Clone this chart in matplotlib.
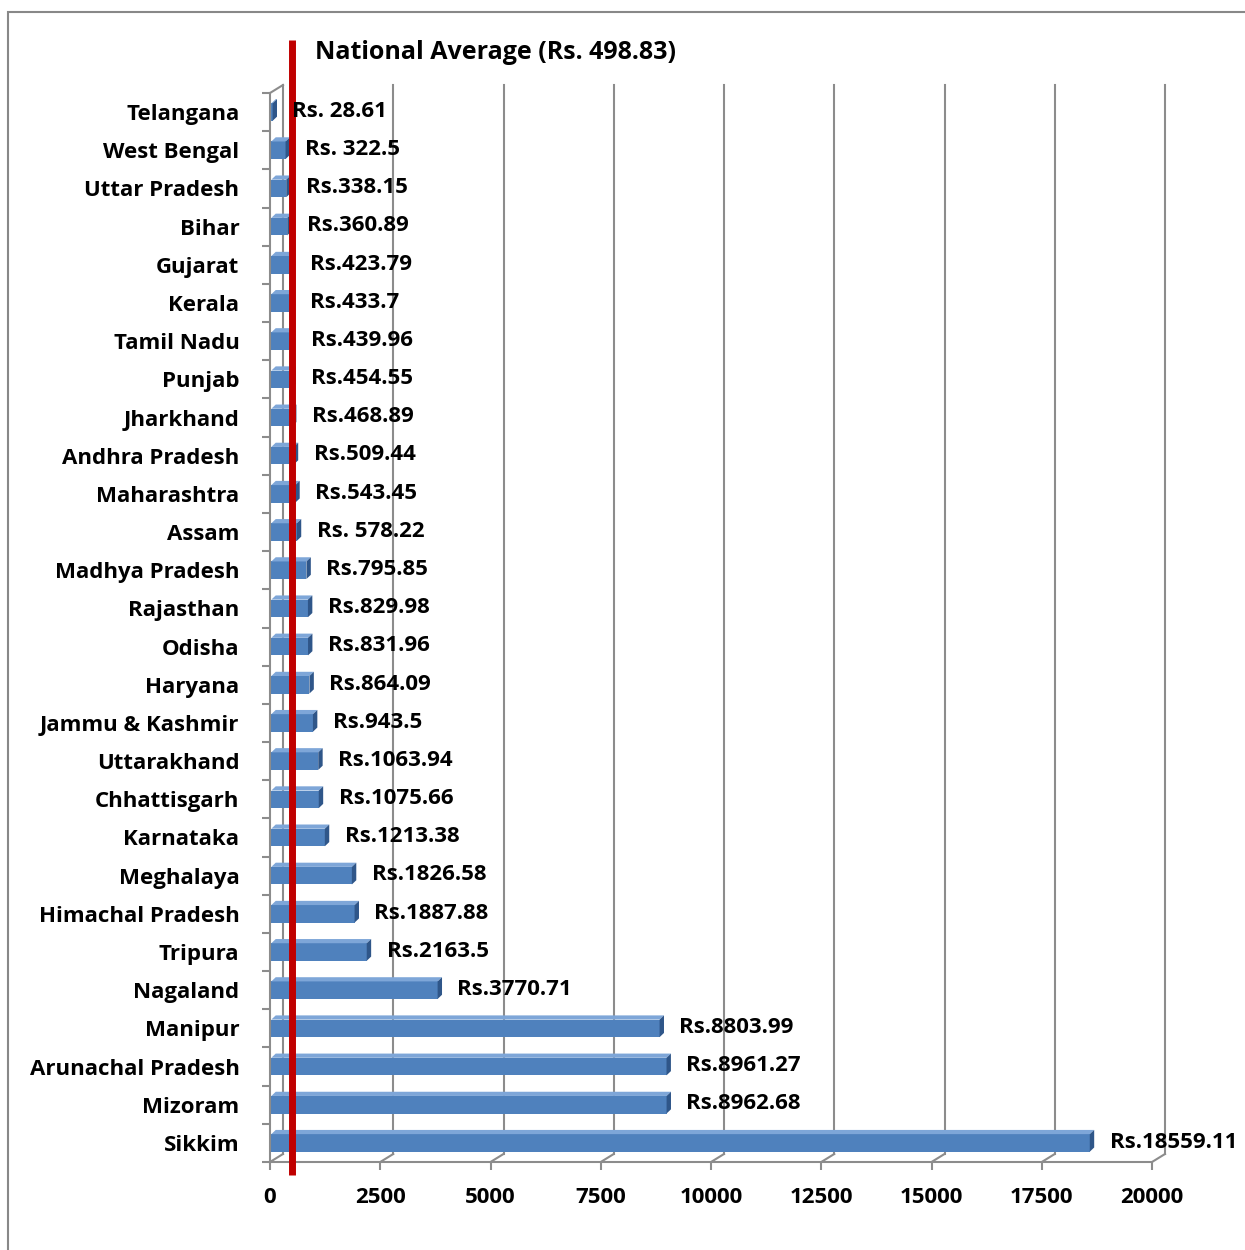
import matplotlib.pyplot as plt
from matplotlib.patches import Polygon, Rectangle
from matplotlib.transforms import offset_copy, blended_transform_factory

states = ['Telangana', 'West Bengal', 'Uttar Pradesh', 'Bihar', 'Gujarat', 'Kerala',
          'Tamil Nadu', 'Punjab', 'Jharkhand', 'Andhra Pradesh', 'Maharashtra', 'Assam',
          'Madhya Pradesh', 'Rajasthan', 'Odisha', 'Haryana', 'Jammu & Kashmir',
          'Uttarakhand', 'Chhattisgarh', 'Karnataka', 'Meghalaya', 'Himachal Pradesh',
          'Tripura', 'Nagaland', 'Manipur', 'Arunachal Pradesh', 'Mizoram', 'Sikkim']
values = [28.61, 322.5, 338.15, 360.89, 423.79, 433.7, 439.96, 454.55, 468.89, 509.44,
          543.45, 578.22, 795.85, 829.98, 831.96, 864.09, 943.5, 1063.94, 1075.66,
          1213.38, 1826.58, 1887.88, 2163.5, 3770.71, 8803.99, 8961.27, 8962.68, 18559.11]
labels = ['Rs. 28.61', 'Rs. 322.5', 'Rs.338.15', 'Rs.360.89', 'Rs.423.79', 'Rs.433.7',
          'Rs.439.96', 'Rs.454.55', 'Rs.468.89', 'Rs.509.44', 'Rs.543.45', 'Rs. 578.22',
          'Rs.795.85', 'Rs.829.98', 'Rs.831.96', 'Rs.864.09', 'Rs.943.5', 'Rs.1063.94',
          'Rs.1075.66', 'Rs.1213.38', 'Rs.1826.58', 'Rs.1887.88', 'Rs.2163.5',
          'Rs.3770.71', 'Rs.8803.99', 'Rs.8961.27', 'Rs.8962.68', 'Rs.18559.11']
national_avg = 498.83
xticks = [0, 2500, 5000, 7500, 10000, 12500, 15000, 17500, 20000]

plt.rcParams['font.family'] = ['Open Sans', 'DejaVu Sans']
plt.rcParams['font.weight'] = 'bold'
fs = 16

grey = '#8c8c8c'
front = '#4f81bd'
top_c = '#7ea6d8'
side_c = '#2f5689'

fig = plt.figure(figsize=(12.45, 12.5), dpi=100)
fig.patches.append(Rectangle((8 / 1245, -0.1), 1.2, 1 - 12 / 1250 + 0.1,
                             transform=fig.transFigure, fill=False,
                             edgecolor='#888888', lw=1.5))
ax = fig.add_axes([270 / 1245, 88 / 1250, 882 / 1245, 1069 / 1250])
n = len(states)
ax.set_xlim(0, 20000)
ax.set_ylim(-0.5, n - 0.5)

back = offset_copy(ax.transData, fig=fig, x=13, y=8, units='dots')

# back wall gridlines and floor slants
for t in xticks:
    ax.plot([t, t], [-0.5, n - 0.5], color=grey, lw=1.5, transform=back, zorder=1, clip_on=False)
    x0, y0 = ax.transData.transform((t, -0.5))
    x1, y1 = back.transform((t, -0.5))
    ax.plot([x0, x1], [y0, y1], color=grey, lw=1.5, transform=None, zorder=1, clip_on=False)
x0, y0 = ax.transData.transform((0, n - 0.5))
x1, y1 = back.transform((0, n - 0.5))
ax.plot([x0, x1], [y0, y1], color=grey, lw=1.5, transform=None, zorder=1, clip_on=False)

# 3D-looking bars
h = 0.46
dx = 100
dy = 0.11
for i, (v, lab) in enumerate(zip(values, labels)):
    y = n - 1 - i
    ax.barh(y, v, height=h, left=dx * 0.3, color=front, edgecolor='none', zorder=2)
    ax.add_patch(Polygon([(dx * 0.3, y + h / 2), (v + dx * 0.3, y + h / 2),
                          (v + dx * 1.3, y + h / 2 + dy), (dx * 1.3, y + h / 2 + dy)],
                         closed=True, facecolor=top_c, edgecolor='none', zorder=2))
    ax.add_patch(Polygon([(v + dx * 0.3, y - h / 2), (v + dx * 1.3, y - h / 2 + dy),
                          (v + dx * 1.3, y + h / 2 + dy), (v + dx * 0.3, y + h / 2)],
                         closed=True, facecolor=side_c, edgecolor='none', zorder=2))
    ax.text(v + 480, y + 0.02, lab, ha='left', va='center', fontsize=fs,
            fontweight='bold', zorder=5)

# national average line
tr = blended_transform_factory(ax.transData, ax.transAxes)
ax.plot([national_avg, national_avg], [-0.012, 1.05], color='#c00000', lw=5,
        transform=tr, zorder=4, clip_on=False, solid_capstyle='butt')
ax.text(0.0515, 1.0375, 'National Average (Rs. 498.83)', transform=ax.transAxes,
        ha='left', va='center', fontsize=18, fontweight='bold')

for s in ['top', 'right']:
    ax.spines[s].set_visible(False)
for s in ['left', 'bottom']:
    ax.spines[s].set_color(grey)
    ax.spines[s].set_linewidth(1.5)

ax.set_xticks(xticks)
ax.set_xticklabels([str(t) for t in xticks])
ax.set_yticks(range(n))
ax.set_yticklabels(states[::-1])
ax.set_yticks([k + 0.5 for k in range(-1, n)], minor=True)
ax.tick_params(axis='x', length=6, width=1.5, color=grey, pad=12, labelsize=fs)
ax.tick_params(axis='y', which='major', length=0, pad=22, labelsize=fs)
ax.tick_params(axis='y', which='minor', length=6, width=1.5, color=grey)
for lbl in ax.get_xticklabels() + ax.get_yticklabels():
    lbl.set_fontweight('bold')

fig.savefig('out.png', dpi=100)
